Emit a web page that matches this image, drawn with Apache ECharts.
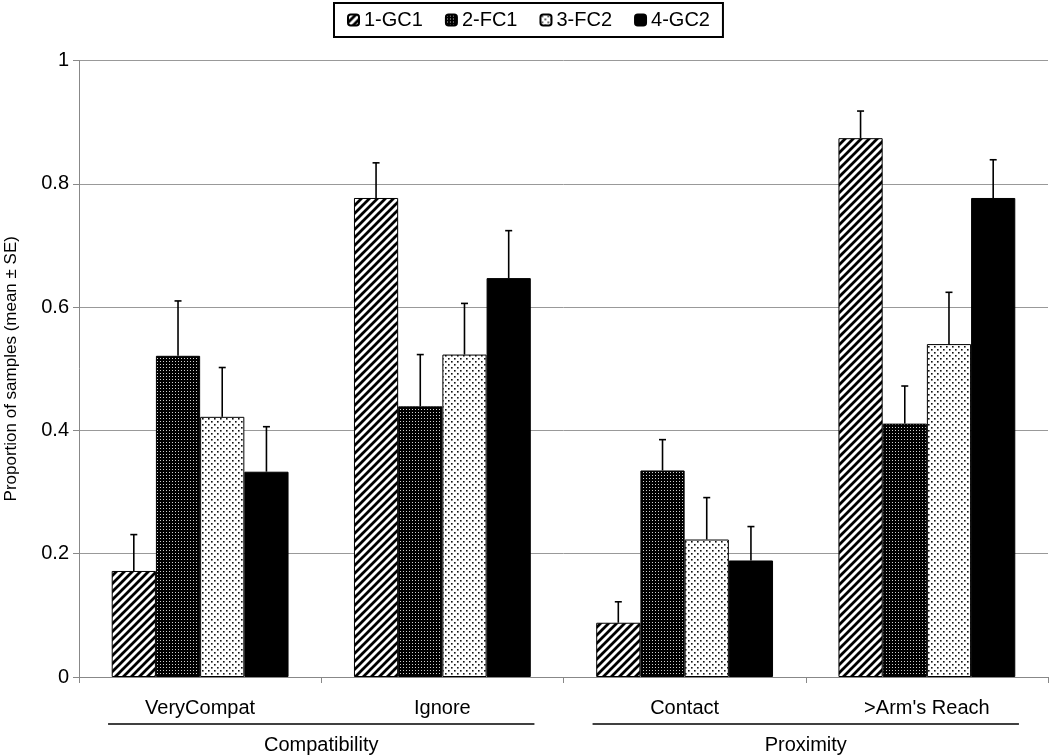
<!DOCTYPE html>
<html>
<head>
<meta charset="utf-8">
<script src="https://cdn.jsdelivr.net/npm/echarts@6/dist/echarts.min.js"></script>
<style>
html,body{margin:0;padding:0;background:#fff;}
#chart{width:1050px;height:756px;}
</style>
</head>
<body>
<div id="chart"></div>
<script>
// ---- data ----
const categories = ['VeryCompat', 'Ignore', 'Contact', '>Arm\'s Reach'];
const groupNames = ['Compatibility', 'Proximity'];
const groupSpans = [[0, 1], [2, 3]];
const seriesNames = ['1-GC1', '2-FC1', '3-FC2', '4-GC2'];
const gc1Mean = [0.172, 0.777, 0.088, 0.874];
const gc1SE   = [0.059, 0.057, 0.034, 0.044];
const fc1Mean = [0.521, 0.439, 0.335, 0.411];
const fc1SE   = [0.089, 0.084, 0.050, 0.061];
const fc2Mean = [0.422, 0.523, 0.223, 0.540];
const fc2SE   = [0.080, 0.083, 0.068, 0.084];
const gc2Mean = [0.333, 0.647, 0.189, 0.777];
const gc2SE   = [0.073, 0.077, 0.055, 0.062];
const yTicks = [0, 0.2, 0.4, 0.6, 0.8, 1];

const means = [gc1Mean, fc1Mean, fc2Mean, gc2Mean];
const ses = [gc1SE, fc1SE, fc2SE, gc2SE];

// ---- patterns ----
function mk(w, h, draw) {
  const c = document.createElement('canvas');
  c.width = w; c.height = h;
  const x = c.getContext('2d');
  draw(x);
  return c;
}
const pStripes = mk(8, 8, x => {
  x.fillStyle = '#fff'; x.fillRect(0, 0, 8, 8);
  x.strokeStyle = '#000'; x.lineWidth = 2.8; x.lineCap = 'square';
  x.beginPath();
  x.moveTo(-2, 10); x.lineTo(10, -2);
  x.moveTo(-2, 2); x.lineTo(2, -2);
  x.moveTo(6, 10); x.lineTo(10, 6);
  x.stroke();
});
const pDark = mk(3, 3, x => {
  x.fillStyle = '#000'; x.fillRect(0, 0, 3, 3);
  x.fillStyle = '#d0d0d0'; x.fillRect(1, 1, 1, 1);
});
const pDots = mk(6, 6, x => {
  x.fillStyle = '#fff'; x.fillRect(0, 0, 6, 6);
  x.fillStyle = '#111';
  x.fillRect(1, 1, 1.6, 1.6);
  x.fillRect(4, 4, 1.6, 1.6);
});
const fills = [
  { image: pStripes, repeat: 'repeat' },
  { image: pDark, repeat: 'repeat' },
  { image: pDots, repeat: 'repeat' },
  '#000'
];

const FONT = '"Liberation Sans", Arial, sans-serif';
const BAR_CAT_GAP = 0.27;

const chart = echarts.init(document.getElementById('chart'), null, { renderer: 'canvas' });

const barSeries = seriesNames.map((n, i) => ({
  name: n,
  type: 'bar',
  data: means[i],
  barGap: '0%',
  barCategoryGap: (BAR_CAT_GAP * 100) + '%',
  itemStyle: { color: fills[i], borderColor: '#000', borderWidth: 1 },
  emphasis: { disabled: true },
  z: 2
}));

const errSeries = seriesNames.map((n, i) => ({
  name: n + ' SE',
  type: 'custom',
  z: 5,
  silent: true,
  data: means[i].map((m, k) => [k, m, m + ses[i][k]]),
  renderItem: function (params, api) {
    const cat = api.value(0);
    const base = api.coord([cat, api.value(1)]);
    const top = api.coord([cat, api.value(2)]);
    const catW = api.size([1, 0])[0];
    const bw = catW * (1 - BAR_CAT_GAP) / seriesNames.length;
    const x = base[0] + (i - (seriesNames.length - 1) / 2) * bw;
    const cap = 3.5;
    const st = { stroke: '#000', lineWidth: 1.6 };
    return {
      type: 'group',
      children: [
        { type: 'line', shape: { x1: x, y1: base[1], x2: x, y2: top[1] }, style: st },
        { type: 'line', shape: { x1: x - cap, y1: top[1], x2: x + cap, y2: top[1] }, style: st }
      ]
    };
  }
}));

chart.setOption({
  animation: false,
  backgroundColor: '#fff',
  textStyle: { fontFamily: FONT, color: '#000' },
  legend: {
    data: seriesNames,
    top: 3,
    left: 334,
    orient: 'horizontal',
    itemWidth: 11,
    itemHeight: 11,
    itemGap: 22,
    padding: [7, 13, 7, 13],
    borderColor: '#000',
    borderWidth: 2,
    textStyle: { fontFamily: FONT, fontSize: 20, color: '#000', padding: [0, 0, 0, 0] },
    selectedMode: false
  },
  grid: { left: 79, right: 2, top: 60.5, bottom: 79, containLabel: false, outerBoundsMode: 'none' },
  xAxis: {
    type: 'category',
    data: categories,
    axisLine: { lineStyle: { color: '#888', width: 1 } },
    axisTick: { show: true, length: 6, lineStyle: { color: '#888' } },
    axisLabel: { fontSize: 20, color: '#000', margin: 21, fontFamily: FONT },
    splitLine: { show: false }
  },
  yAxis: {
    type: 'value',
    min: yTicks[0],
    max: yTicks[yTicks.length - 1],
    interval: yTicks[1] - yTicks[0],
    name: 'Proportion of samples (mean ± SE)',
    nameLocation: 'middle',
    nameGap: 59,
    nameRotate: 90,
    nameTextStyle: { fontSize: 17, color: '#000', fontFamily: FONT },
    axisLine: { show: true, lineStyle: { color: '#888', width: 1 } },
    axisTick: { show: true, length: 6, lineStyle: { color: '#888' } },
    axisLabel: { fontSize: 20, color: '#000', margin: 10, fontFamily: FONT },
    splitLine: { show: true, lineStyle: { color: '#999', width: 1 } }
  },
  series: [...barSeries, ...errSeries]
});

// group labels under category labels
function drawGroups() {
  const c0 = chart.convertToPixel({ xAxisIndex: 0 }, 0);
  const c1 = chart.convertToPixel({ xAxisIndex: 0 }, 1);
  const catW = c1 - c0;
  const y0 = chart.convertToPixel({ yAxisIndex: 0 }, 0);
  const els = [];
  groupSpans.forEach((sp, g) => {
    const a = chart.convertToPixel({ xAxisIndex: 0 }, sp[0]);
    const b = chart.convertToPixel({ xAxisIndex: 0 }, sp[1]);
    const cx = (a + b) / 2;
    const half = (b - a) / 2 + catW * 0.38;
    els.push({
      type: 'line',
      shape: { x1: cx - half, y1: y0 + 47, x2: cx + half, y2: y0 + 47 },
      style: { stroke: '#000', lineWidth: 1.6 },
      silent: true
    });
    els.push({
      type: 'text',
      x: cx, y: y0 + 68,
      style: { text: groupNames[g], fontSize: 20, fontFamily: FONT, fill: '#000', align: 'center', verticalAlign: 'middle' },
      silent: true
    });
  });
  chart.setOption({ graphic: { elements: els } });
}
drawGroups();
</script>
</body>
</html>
